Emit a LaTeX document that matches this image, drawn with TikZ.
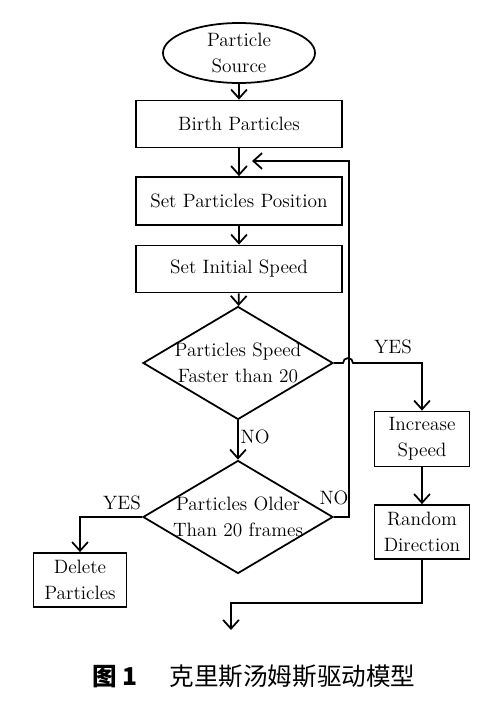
\documentclass[tikz,border=0pt]{standalone}
\usepackage{fontspec}
\newfontfamily\cjk{Noto Sans CJK SC}
\usetikzlibrary{arrows.meta, positioning, shapes.geometric}

\tikzset{
	every node/.style={font=\fontsize{11}{14.5}\selectfont},
	box/.style={draw, line width=1pt, align=center, inner sep=2pt},
	decision/.style={draw, diamond, line width=1pt, align=center, inner sep=-20pt, aspect=1.68, minimum width=190*0.02cm, minimum height=113*0.02cm},
	link/.style={line width=1pt, -{Straight Barb[length=5pt,width=9pt,line width=1pt]}},
	tag/.style={inner sep=1pt}
}

\begin{document}
\begin{tikzpicture}[x=0.02cm, y=-0.02cm]
	\useasboundingbox (0,0) rectangle (500,703);

	% Source
	\node (source) at (239,53) [draw, ellipse, line width=1pt, align=center, minimum width=152*0.02cm, minimum height=60*0.02cm, inner sep=0pt] {Particle\\Source};

	% Main column
	\node (birth) at (239,124) [box, minimum width=206*0.02cm, minimum height=47*0.02cm] {Birth Particles};
	\node (setpos) at (239,201) [box, minimum width=206*0.02cm, minimum height=48*0.02cm] {Set Particles Position};
	\node (setspeed) at (239,269) [box, minimum width=206*0.02cm, minimum height=47*0.02cm] {Set Initial Speed};

	% Decisions
	\node (faster) at (238,363) [decision] {Particles Speed\\Faster than 20};
	\node (older) at (238,517) [decision] {Particles Older\\Than 20 frames};

	% Right branch
	\node (increase) at (422,439) [box, minimum width=95*0.02cm, minimum height=55*0.02cm] {Increase\\Speed};
	\node (random) at (422,532) [box, minimum width=95*0.02cm, minimum height=54*0.02cm] {Random\\Direction};

	% Left branch
	\node (delete) at (80,580) [box, minimum width=93*0.02cm, minimum height=54*0.02cm] {Delete\\Particles};

	% Free ends
	\coordinate (loopin) at (252,161);
	\coordinate (bend) at (231,603);
	\coordinate (exit) at (231,630);

	% Arrows down the column
	\draw[link] (source) -- (birth);
	\draw[link] (birth) -- (setpos);
	\draw[link] (setpos) -- (setspeed);
	\draw[link] (setspeed) -- (faster);
	\draw[link] (faster) -- (older) node[pos=0.42, right, tag] {NO};

	% YES to the right, jumping over the loop line
	\draw[link] (faster.east) -- (343,363) arc[start angle=180, end angle=0, radius=0.1cm] -- (increase.north |- faster.east) -- (increase.north);
	\node[tag] (yesright) at (393,347) {YES};
	\draw[link] (increase) -- (random);
	\draw[link] (random.south) -- (random.south |- bend) -- (bend) -- (exit);

	% NO loops back up
	\draw[link] (older.east) -- (349,517) -- (349,161) -- (loopin);
	\node[tag] (noright) at (334,498) {NO};

	% YES to delete
	\draw[link] (older.west) -| (delete.north);
	\node[tag] (yesleft) at (122,503) {YES};

	% Caption
	\node (caption) at (254,676) {\cjk\fontsize{14}{16}\selectfont\textbf{图 1}\hspace{1.3em}克里斯汤姆斯驱动模型};
\end{tikzpicture}
\end{document}
